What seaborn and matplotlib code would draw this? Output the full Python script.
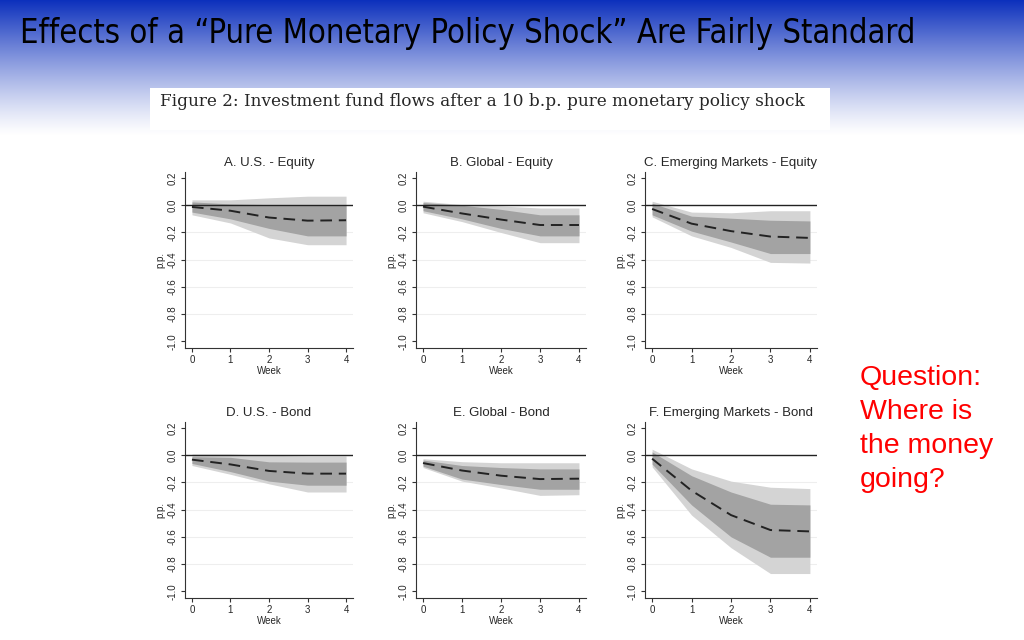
import numpy as np
import pandas as pd
import matplotlib
matplotlib.use("Agg")
import matplotlib.pyplot as plt
import seaborn as sns

sns.set_style("ticks")
plt.rcParams["font.family"] = ["Liberation Sans", "DejaVu Sans"]

# data (p.p.), weeks 0..4
weeks = [0, 1, 2, 3, 4]
titles = ["A. U.S. - Equity", "B. Global - Equity", "C. Emerging Markets - Equity",
          "D. U.S. - Bond", "E. Global - Bond", "F. Emerging Markets - Bond"]

point = [
    [-0.012, -0.040, -0.090, -0.113, -0.110],
    [-0.010, -0.060, -0.105, -0.145, -0.145],
    [-0.027, -0.135, -0.190, -0.230, -0.240],
    [-0.032, -0.067, -0.115, -0.135, -0.135],
    [-0.057, -0.112, -0.150, -0.175, -0.172],
    [-0.025, -0.260, -0.440, -0.550, -0.560],
]
outer_hi = [
    [0.040, 0.040, 0.055, 0.067, 0.067],
    [0.030, 0.005, -0.005, -0.020, -0.020],
    [0.030, -0.050, -0.055, -0.040, -0.040],
    [0.010, 0.010, 0.000, -0.005, -0.005],
    [-0.025, -0.047, -0.055, -0.055, -0.055],
    [0.045, -0.100, -0.190, -0.235, -0.245],
]
inner_hi = [
    [0.025, 0.010, 0.005, 0.005, 0.005],
    [0.020, 0.000, -0.030, -0.070, -0.070],
    [0.015, -0.080, -0.095, -0.110, -0.115],
    [-0.010, -0.015, -0.048, -0.050, -0.050],
    [-0.035, -0.075, -0.090, -0.100, -0.100],
    [0.025, -0.150, -0.270, -0.360, -0.365],
]
inner_lo = [
    [-0.050, -0.100, -0.170, -0.225, -0.225],
    [-0.040, -0.100, -0.170, -0.225, -0.225],
    [-0.070, -0.190, -0.270, -0.355, -0.355],
    [-0.060, -0.120, -0.190, -0.220, -0.220],
    [-0.080, -0.175, -0.215, -0.250, -0.250],
    [-0.065, -0.365, -0.600, -0.750, -0.750],
]
outer_lo = [
    [-0.070, -0.130, -0.240, -0.290, -0.290],
    [-0.055, -0.120, -0.200, -0.275, -0.275],
    [-0.085, -0.225, -0.310, -0.420, -0.425],
    [-0.075, -0.140, -0.210, -0.270, -0.270],
    [-0.090, -0.190, -0.240, -0.295, -0.290],
    [-0.085, -0.440, -0.680, -0.870, -0.870],
]

fig = plt.figure(figsize=(10.24, 6.4), dpi=100)

# slide header gradient
bg = fig.add_axes([0, 0, 1, 1], zorder=-10)
bg.axis("off")
t = np.clip(np.arange(640) / 135.0, 0, 1)[:, None, None]
top = np.array([0.05, 0.19, 0.74])
w = (1 - t) ** 1.2
grad = top * w + (1 - w)
grad = np.repeat(grad, 8, axis=1)
bg.imshow(grad, aspect="auto", extent=[0, 1, 0, 1])
bg.set_xlim(0, 1)
bg.set_ylim(0, 1)

fig.text(20 / 1024, 1 - 33 / 640, "Effects of a \u201cPure Monetary Policy Shock\u201d Are Fairly Standard",
         fontsize=23.5, va="center", ha="left", color="black",
         family="DejaVu Sans", fontstretch="condensed")

# caption box
bg.add_patch(plt.Rectangle((150 / 1024, 1 - 130 / 640), 680 / 1024, 42 / 640,
                           facecolor="white", edgecolor="none"))
fig.text(160 / 1024, 1 - 102 / 640,
         "Figure 2: Investment fund flows after a 10 b.p. pure monetary policy shock",
         fontsize=12.2, va="center", ha="left", family=["DejaVu Serif"])

for i, line in enumerate(["Question:", "Where is", "the money", "going?"]):
    fig.text(860 / 1024, 1 - (378 + 34 * i) / 640, line, fontsize=20.5,
             va="center", ha="left", color="#ff0000")

lefts = [185, 416, 645]
widths = [168, 170, 172]
bottoms = [348, 598]

for k in range(6):
    r, c = divmod(k, 3)
    ax = fig.add_axes([lefts[c] / 1024, 1 - bottoms[r] / 640, widths[c] / 1024, 176 / 640])
    ax.set_facecolor("white")
    ax.fill_between(weeks, outer_lo[k], outer_hi[k], color="#d4d4d4", lw=0, zorder=1)
    ax.fill_between(weeks, inner_lo[k], inner_hi[k], color="#a3a3a3", lw=0, zorder=2)
    ax.axhline(0, color="#222222", lw=1.0, zorder=3)
    df = pd.DataFrame({"week": weeks, "pp": point[k]})
    sns.lineplot(data=df, x="week", y="pp", ax=ax, color="#222222", lw=1.4,
                 zorder=4)
    ax.lines[-1].set_dashes([6, 3.5])
    ax.set_xlim(-0.18, 4.18)
    ax.set_ylim(-1.05, 0.245)
    ax.set_yticks([0.2, 0.0, -0.2, -0.4, -0.6, -0.8, -1.0])
    ax.set_yticklabels(["0.2", "0.0", "-0.2", "-0.4", "-0.6", "-0.8", "-1.0"],
                       rotation=90, va="center")
    ax.set_xticks(weeks)
    for yv in [-0.2, -0.4, -0.6, -0.8]:
        ax.axhline(yv, color="#eeeeee", lw=0.8, zorder=0)
    ax.tick_params(labelsize=7, length=3, width=0.8, color="#333333", pad=2)
    ax.set_xlabel("Week", fontsize=7, labelpad=1)
    ax.set_ylabel("p.p.", fontsize=7, labelpad=2)
    ax.set_title(titles[k], fontsize=9.5, pad=4)
    sns.despine(ax=ax)
    for s in ["left", "bottom"]:
        ax.spines[s].set_linewidth(0.8)
        ax.spines[s].set_color("#333333")

fig.savefig("out.png", dpi=100)
